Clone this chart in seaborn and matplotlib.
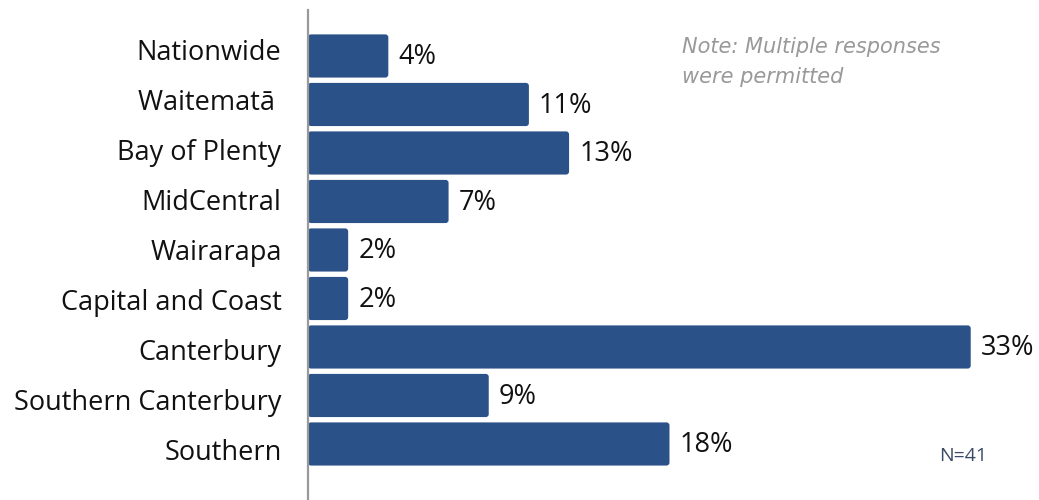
import matplotlib
matplotlib.use("Agg")
import matplotlib.pyplot as plt
from matplotlib.patches import FancyBboxPatch
import seaborn as sns
import pandas as pd

regions = ["Nationwide", "Waitematā ", "Bay of Plenty", "MidCentral", "Wairarapa",
           "Capital and Coast", "Canterbury", "Southern Canterbury", "Southern"]
percent = [4, 11, 13, 7, 2, 2, 33, 9, 18]
value_labels = ["4%", "11%", "13%", "7%", "2%", "2%", "33%", "9%", "18%"]

df = pd.DataFrame({"region": regions, "percent": percent})

sns.set_theme(style="white")
plt.rcParams["font.family"] = ["Open Sans", "DejaVu Sans"]

fig = plt.figure(figsize=(10.39, 5.0), dpi=100)
ax = fig.add_axes([308 / 1039, 0.0, 1 - 308 / 1039, 0.98])

bar_color = "#2b5288"
sns.barplot(data=df, x="percent", y="region", color=bar_color, width=0.89,
            saturation=1, ax=ax, orient="h")

ax.set_xlim(0, 36.4)
ax.set_ylim(9.155, -0.948)

# give the bars slightly rounded corners
px_x = 1.0 / 20.1   # data units per pixel along x
px_y = 1.0 / 48.5   # data units per pixel along y
for p in list(ax.patches):
    x0, y0, w, h = p.get_x(), p.get_y(), p.get_width(), p.get_height()
    p.remove()
    ax.add_patch(FancyBboxPatch((x0, y0), w, h,
                                boxstyle=f"round,pad=0,rounding_size={3 * px_x}",
                                mutation_aspect=px_y / px_x,
                                facecolor=bar_color, edgecolor="none", clip_on=False))

ax.set_xlabel("")
ax.set_ylabel("")
ax.set_xticks([])
# category labels sit on a slightly wider pitch than the bars
ax.set_yticks([i + (-6 + 1.5 * i) / 48.5 for i in range(len(regions))])
ax.set_yticklabels(regions)
ax.tick_params(axis="y", length=0, pad=19, labelsize=19.5, labelcolor="#111111")
for s in ["top", "right", "bottom"]:
    ax.spines[s].set_visible(False)
ax.spines["left"].set_color("#999999")
ax.spines["left"].set_linewidth(1.6)
ax.spines["left"].set_zorder(5)

for i, (v, lab) in enumerate(zip(percent, value_labels)):
    ax.text(v + 0.5, i + 0.03, lab, va="center", ha="left", fontsize=19.5,
            color="#111111")

fig.text(682 / 1039, 1 - 62 / 500, "Note: Multiple responses\nwere permitted",
         ha="left", va="center", fontsize=15, style="italic", color="#999999",
         linespacing=1.6, family=["DejaVu Sans"])
fig.text(963 / 1039, 1 - 456 / 500, "N=41", ha="center", va="center",
         fontsize=14, color="#3a4a66")

fig.savefig("out.png", dpi=100)
